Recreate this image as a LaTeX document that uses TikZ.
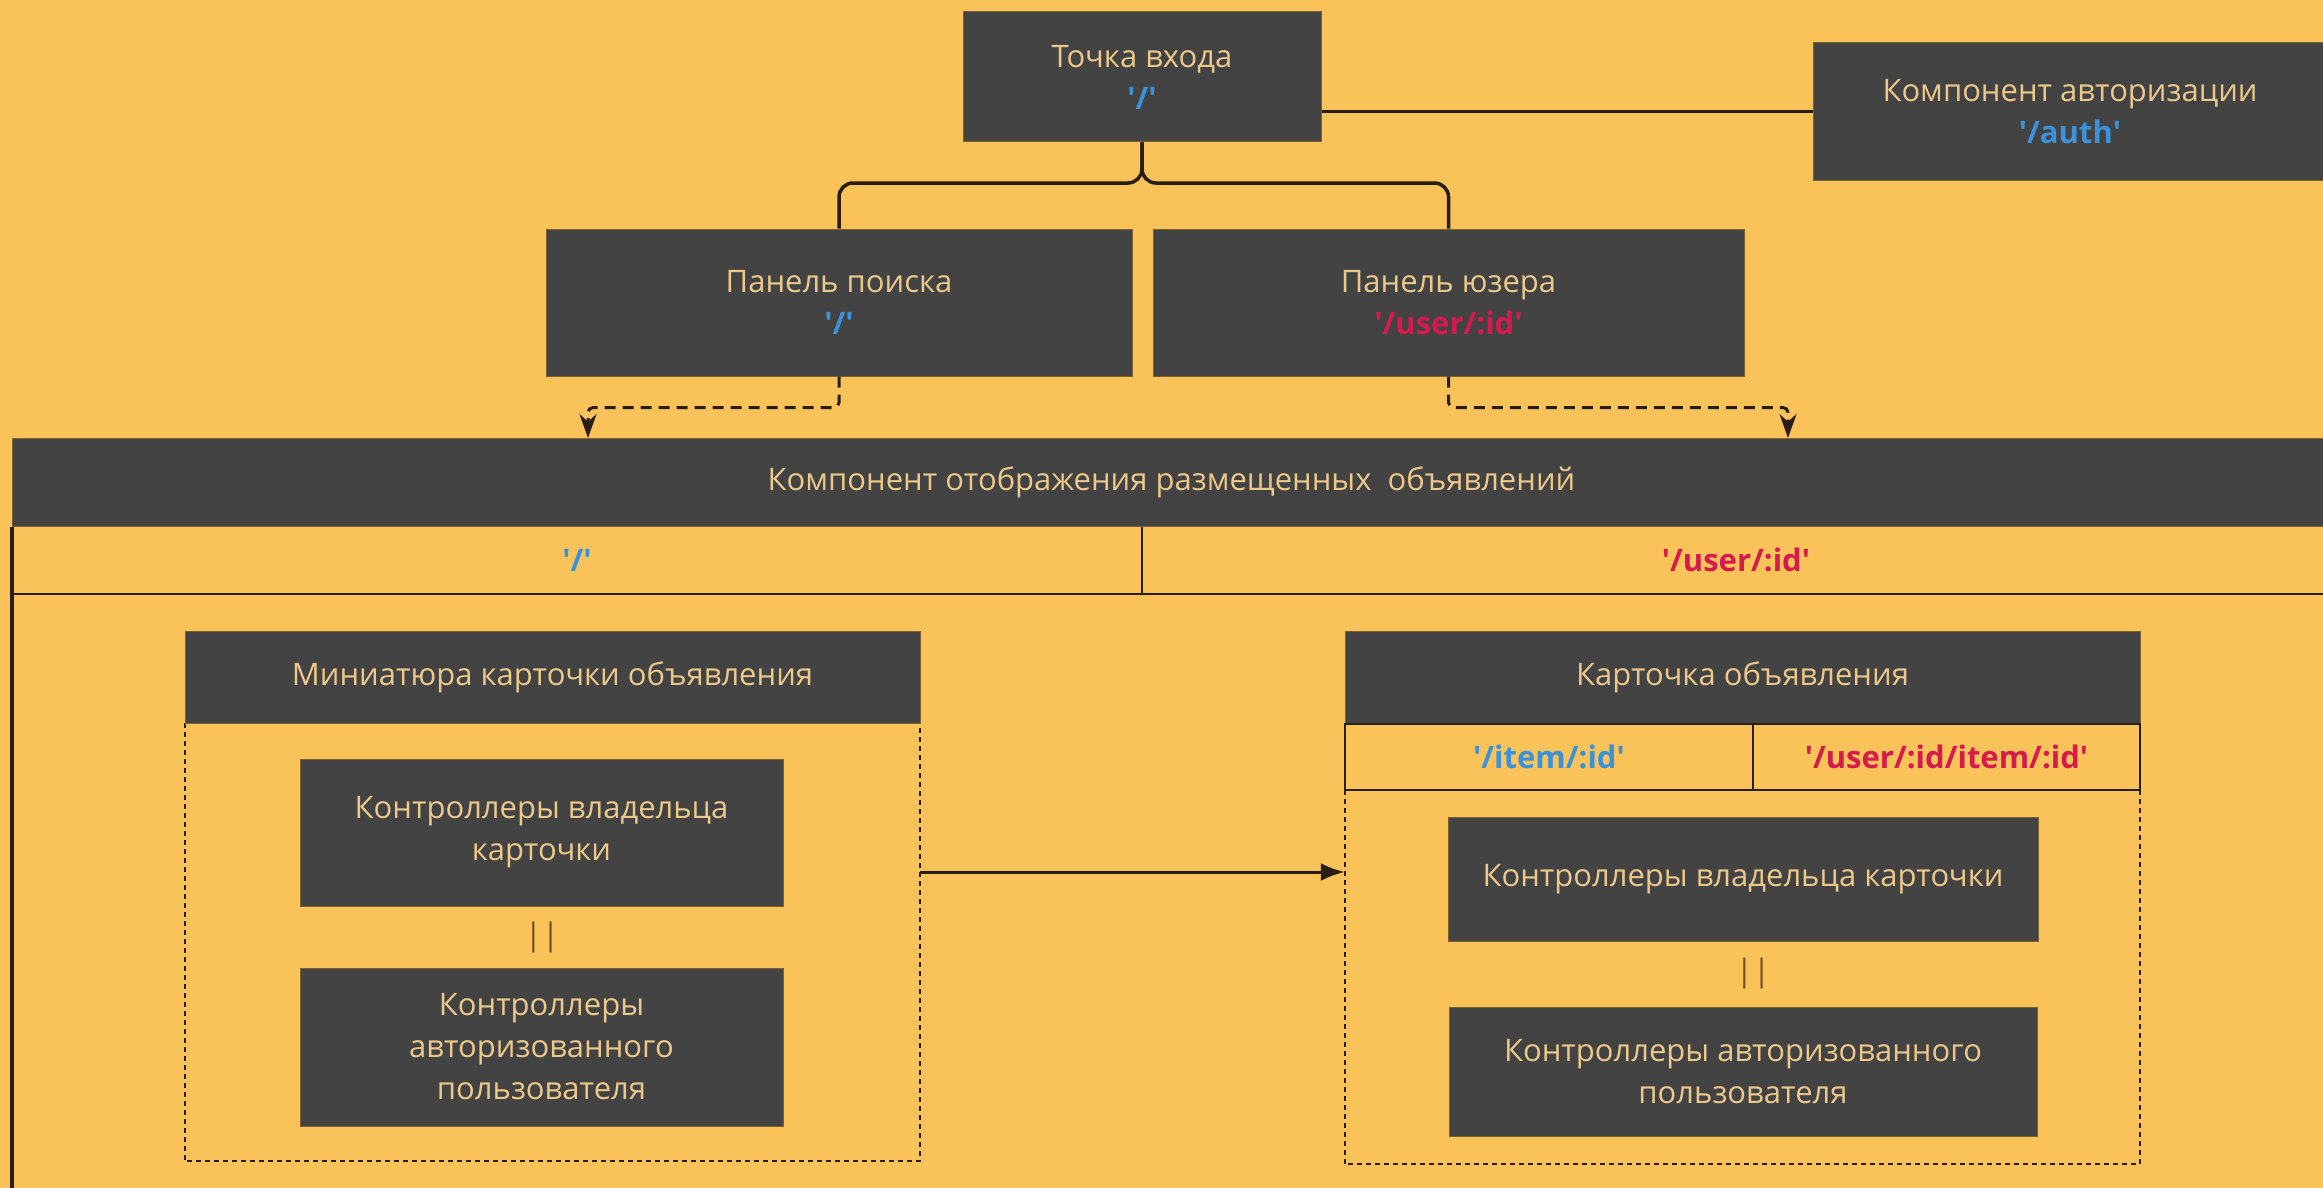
\documentclass[tikz,border=0pt]{standalone}
\usepackage{fontspec}
\setmainfont{Open Sans}
\usetikzlibrary{arrows.meta}
\definecolor{bg}{RGB}{249,195,90}
\definecolor{dark}{RGB}{67,67,67}
\definecolor{beige}{RGB}{236,201,138}
\definecolor{blu}{RGB}{58,146,218}
\definecolor{rd}{RGB}{214,26,78}
\definecolor{ln}{RGB}{40,30,20}
\definecolor{pipec}{RGB}{110,80,40}
\newcommand\apo{\textquotesingle}
\begin{document}
\begin{tikzpicture}[x=1pt,y=-1pt,
 box/.style={fill=dark, draw=ln!60!bg, line width=1pt, text=beige, align=center, inner sep=0pt, font=\fontsize{31}{42}\selectfont},
 route/.style={font=\fontsize{31}{42}\selectfont\bfseries},
 conn/.style={draw=ln, line width=3.5pt},
 dconn/.style={draw=ln, line width=3pt, dash pattern=on 11pt off 7pt},
 framed/.style={draw=ln, line width=1.5pt, dash pattern=on 5pt off 4pt},
 rowline/.style={draw=ln, line width=2.5pt},
 pipes/.style={text=pipec, font=\fontsize{31}{36}\selectfont, inner sep=0pt},
]
\useasboundingbox (0,0) rectangle (2323,1188);
\fill[bg] (0,0) rectangle (2323,1188);

% top level
\node[box, minimum width=358pt, minimum height=130pt] (entry) at (1142,77) {Точка входа\\{\color{blu}\bfseries\apo/\apo}};
\node[box, minimum width=514pt, minimum height=137pt] (auth) at (2070,111.5) {Компонент авторизации\\{\color{blu}\bfseries\apo/auth\apo}};
\node[box, minimum width=586pt, minimum height=147pt] (search) at (839,302.5) {Панель поиска\\{\color{blu}\bfseries\apo/\apo}};
\node[box, minimum width=591pt, minimum height=147pt] (user) at (1448.5,302.5) {Панель юзера\\{\color{rd}\bfseries\apo/user/:id\apo}};

\coordinate (jn) at (1142,183);
\draw[conn] (entry.east |- auth.west) -- (auth.west);
\draw[conn, rounded corners=14pt] (entry.south) -- (entry.south |- jn) -| (search.north);
\draw[conn, rounded corners=14pt] (entry.south) -- (entry.south |- jn) -| (user.north);

% main component
\coordinate (bot) at (12,1188);
\node[box, minimum width=2318pt, minimum height=88pt, anchor=west] (bar) at (12,482) {Компонент отображения размещенных~ объявлений};
\draw[conn, line width=4.5pt] (bar.south west) -- (bot);
\coordinate (rowb) at (2323,594);
\draw[rowline] (bar.south west |- rowb) -- (rowb);
\coordinate (rowdiv) at (1142,594);
\draw[rowline, line width=2pt] (rowdiv |- bar.south) -- (rowdiv);
\node[route, text=blu] (rowL) at (577,560) {\apo/\apo};
\node[route, text=rd] (rowR) at (1736,560) {\apo/user/:id\apo};

\coordinate (la) at (588,438);
\coordinate (ra) at (1788,438);
\draw[dconn, rounded corners=5pt, -{Stealth[length=24pt,width=17pt]}] (search.south) -- ++(0,31) -| (la);
\draw[dconn, rounded corners=5pt, -{Stealth[length=24pt,width=17pt]}] (user.south) -- ++(0,31) -| (ra);

% left: miniature
\path node[minimum width=735pt, minimum height=438pt, inner sep=0pt] (miniF) at (552.5,942) {};
\draw[framed] (miniF.north west) -- (miniF.south west) -- (miniF.south east) -- (miniF.north east);
\node[box, minimum width=735pt, minimum height=92pt] (mini) at (552.5,677) {Миниатюра карточки объявления};
\node[box, minimum width=483pt, minimum height=147pt] (lc1) at (541.5,832.5) {Контроллеры владельца\\карточки};
\node[pipes] (lp) at (542,937) {||};
\node[box, minimum width=483pt, minimum height=158pt] (lc2) at (541.5,1047) {Контроллеры\\авторизованного\\пользователя};

% right: card
\path node[minimum width=795pt, minimum height=374pt, inner sep=0pt] (cardF) at (1742.5,977) {};
\draw[framed] (cardF.north west) -- (cardF.south west) -- (cardF.south east) -- (cardF.north east);
\node[box, minimum width=795pt, minimum height=92pt] (card) at (1742.5,677) {Карточка объявления};
\coordinate (cdiv) at (1753,790);
\draw[rowline, line width=2pt] (card.south west) rectangle (cardF.north east);
\draw[rowline, line width=2pt] (cdiv |- card.south) -- (cdiv);
\node[route, text=blu] (cL) at (1549,756.5) {\apo/item/:id\apo};
\node[route, text=rd] (cR) at (1946.5,756.5) {\apo/user/:id/item/:id\apo};
\node[box, minimum width=590pt, minimum height=124pt] (rc1) at (1743,879) {Контроллеры владельца карточки};
\node[pipes] (rp) at (1753,973) {||};
\node[box, minimum width=588pt, minimum height=129pt] (rc2) at (1743,1071.5) {Контроллеры авторизованного\\пользователя};

\coordinate (ay) at (0,872);
\draw[conn, line width=3pt, -{Latex[length=24pt,width=18pt]}] (miniF.east |- ay) -- (cardF.west |- ay);
\end{tikzpicture}
\end{document}
